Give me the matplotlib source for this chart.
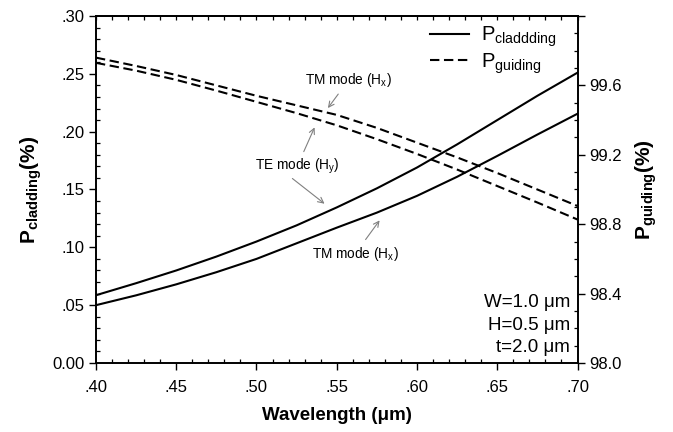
import numpy as np
import matplotlib
matplotlib.use('Agg')
import matplotlib.pyplot as plt
from matplotlib.ticker import MultipleLocator, FuncFormatter

plt.rcParams['font.family'] = ['Liberation Sans', 'DejaVu Sans']
plt.rcParams['mathtext.fontset'] = 'custom'
plt.rcParams['mathtext.rm'] = 'Liberation Sans'
plt.rcParams['mathtext.it'] = 'Liberation Sans'
plt.rcParams['mathtext.bf'] = 'Liberation Sans:bold'

# wavelength (um)
wavelength = [0.400, 0.425, 0.450, 0.475, 0.500, 0.525, 0.550,
              0.575, 0.600, 0.625, 0.650, 0.675, 0.700]
# cladding power (%), left axis
clad_te = [0.0586, 0.0690, 0.0800, 0.0920, 0.1050, 0.1190, 0.1345,
           0.1510, 0.1690, 0.1890, 0.2100, 0.2310, 0.2510]
clad_tm = [0.0500, 0.0585, 0.0680, 0.0785, 0.0900, 0.1035, 0.1170,
           0.1300, 0.1445, 0.1610, 0.1790, 0.1975, 0.2155]
# guiding power (%), right axis
guid_tm = [99.760, 99.712, 99.660, 99.600, 99.540, 99.485, 99.430,
           99.355, 99.270, 99.185, 99.095, 99.000, 98.905]
guid_te = [99.730, 99.685, 99.632, 99.570, 99.505, 99.440, 99.370,
           99.290, 99.205, 99.115, 99.020, 98.925, 98.827]

params = ['W=1.0 \u03bcm', 'H=0.5 \u03bcm', 't=2.0 \u03bcm']


def no_lead_zero(v, pos):
    s = '%.2f' % v
    if s.startswith('0.') and v != 0:
        s = s[1:]
    return s


fig = plt.figure(figsize=(6.73, 4.32), dpi=100)
ax = fig.add_axes([0.1426, 0.1597, 0.7155, 0.8033])
ax2 = ax.twinx()

ax.plot(wavelength, clad_te, color='black', lw=1.5)
ax.plot(wavelength, clad_tm, color='black', lw=1.5)
ax2.plot(wavelength, guid_tm, color='black', lw=1.5, ls=(0, (4.5, 2.2)))
ax2.plot(wavelength, guid_te, color='black', lw=1.5, ls=(0, (4.5, 2.2)))

ax.set_xlim(0.40, 0.70)
ax.set_ylim(0.0, 0.30)
ax2.set_ylim(98.0, 100.0)

ax.xaxis.set_major_locator(MultipleLocator(0.05))
ax.xaxis.set_minor_locator(MultipleLocator(0.01))
ax.yaxis.set_major_locator(MultipleLocator(0.05))
ax.yaxis.set_minor_locator(MultipleLocator(0.01))
ax.xaxis.set_major_formatter(FuncFormatter(no_lead_zero))
ax.yaxis.set_major_formatter(FuncFormatter(no_lead_zero))
ax2.yaxis.set_major_locator(MultipleLocator(0.4))
ax2.yaxis.set_minor_locator(MultipleLocator(0.1))
ax2.yaxis.set_major_formatter(FuncFormatter(lambda v, p: '' if v > 99.9 else '%.1f' % v))

for a in (ax, ax2):
    a.tick_params(which='major', direction='out', length=5, width=1, labelsize=12, colors='black')
    a.tick_params(which='minor', direction='in', length=3, width=0.9)
    for sp in a.spines.values():
        sp.set_linewidth(1.2)
ax.tick_params(axis='x', pad=7)

top = ax.secondary_xaxis('top')
top.xaxis.set_major_locator(MultipleLocator(0.05))
top.xaxis.set_minor_locator(MultipleLocator(0.01))
top.tick_params(which='both', direction='in', length=3, width=0.9, labeltop=False)
top.spines['top'].set_linewidth(1.2)

ax.set_xlabel('Wavelength (\u03bcm)', fontsize=13.5, fontweight='bold', labelpad=9)
ax.set_ylabel(r'$\mathbf{P_{cladding}(\%)}$', fontsize=15, labelpad=6)
ax2.set_ylabel(r'$\mathbf{P_{guiding}(\%)}$', fontsize=15, labelpad=8)

# legend, built from proxy lines
h1, = ax.plot([], [], color='black', lw=1.5)
h2, = ax.plot([], [], color='black', lw=1.5, ls=(0, (4.5, 2.2)))
ax.legend([h1, h2], [r'P$_{\mathrm{claddding}}$', r'P$_{\mathrm{guiding}}$'],
          loc='upper right', frameon=False, fontsize=14.5, handlelength=1.9,
          handletextpad=0.6, borderaxespad=0.2, labelspacing=0.1,
          bbox_to_anchor=(0.98, 1.01))

ax.text(0.985, 0.02, '\n'.join(params), transform=ax.transAxes, ha='right', va='bottom',
        fontsize=13.5, linespacing=1.42)

arrow = dict(arrowstyle='->', color='gray', lw=0.8, shrinkA=2, shrinkB=0)
ax.annotate(r'TM mode (H$_x$)', xy=(0.5445, 0.2204), xytext=(0.5574, 0.2446),
            ha='center', va='center', fontsize=9.8, arrowprops=arrow)
ax.annotate(r'TE mode (H$_y$)', xy=(0.5362, 0.2037), xytext=(0.5253, 0.1698),
            ha='center', va='center', fontsize=9.8, arrowprops=arrow)
ax.annotate('', xy=(0.5424, 0.1377), xytext=(0.5210, 0.1610), arrowprops=arrow)
ax.annotate(r'TM mode (H$_x$)', xy=(0.5767, 0.1233), xytext=(0.5616, 0.0946),
            ha='center', va='center', fontsize=9.8, arrowprops=arrow)

fig.savefig('out.png', dpi=100)
